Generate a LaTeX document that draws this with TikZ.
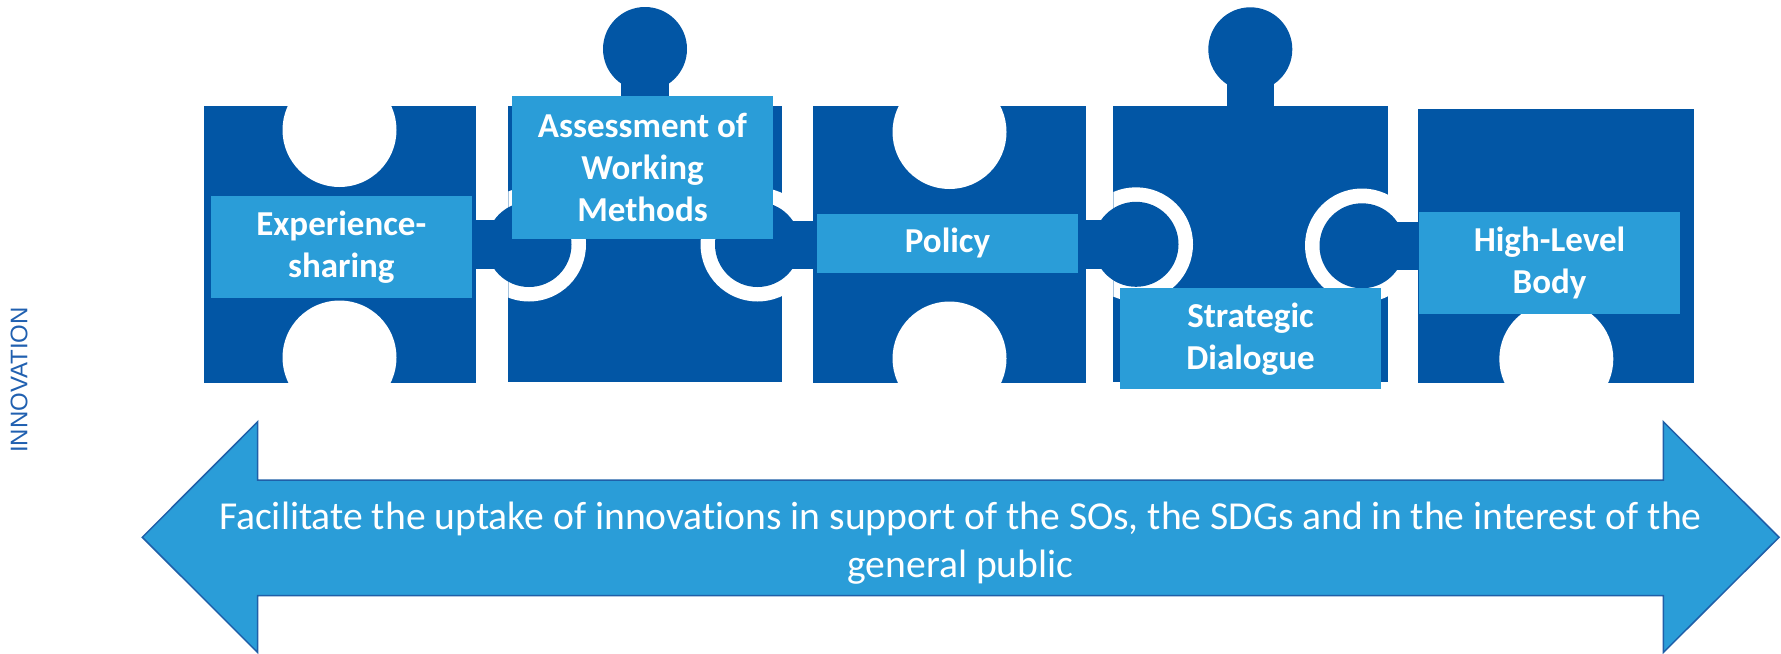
\documentclass[tikz,border=0pt]{standalone}
\usepackage{fontspec}
\setmainfont{Carlito}[Ligatures=NoCommon]
\newfontfamily\arialf{Liberation Sans}
\definecolor{pz}{HTML}{0256A5}
\definecolor{lb}{HTML}{2A9DD8}
\definecolor{al}{HTML}{1F5FA8}
\definecolor{inn}{HTML}{2060B0}
\begin{document}
\begin{tikzpicture}[x=0.5pt,y=-0.5pt,
 piece/.style={fill=pz},
 hole/.style={fill=white},
 lbl/.style={fill=lb,text=white,font=\bfseries\fontsize{17.5}{21}\selectfont,align=center,inner sep=0pt,minimum width=130.5pt},
]
\useasboundingbox (0,0) rectangle (1781,653);
% pieces
\fill[piece] (204,105.7) rectangle (476,383);
\fill[piece] (508.3,106) rectangle (782,381.7);
\fill[piece] (812.7,105.7) rectangle (1086,383.3);
\fill[piece] (1113.3,106) rectangle (1388,381.7);
\fill[piece] (1417.5,109.3) rectangle (1694.3,383.3);
% holes
\begin{scope}
\clip (204,105.7) rectangle (476,383);
\fill[hole] (339.5,130) circle[radius=57];
\fill[hole] (339.5,357.5) circle[radius=57];
\end{scope}
\begin{scope}
\clip (508.3,106) rectangle (782,381.7);
\fill[hole] (529,244.5) circle[radius=57];
\fill[hole] (757.5,244.5) circle[radius=57];
\end{scope}
\begin{scope}
\clip (812.7,105.7) rectangle (1086,383.3);
\fill[hole] (949.5,132) circle[radius=57];
\fill[hole] (949.5,358.5) circle[radius=57];
\end{scope}
\begin{scope}
\clip (1113.3,106) rectangle (1388,381.7);
\fill[hole] (1136,244.3) circle[radius=57];
\fill[hole] (1362,245.5) circle[radius=57];
\end{scope}
\begin{scope}
\clip (1417.5,109.3) rectangle (1694.3,383.3);
\fill[hole] (1556.3,359) circle[radius=57];
\end{scope}
% tabs
\fill[piece] (476,220) rectangle (529,269);
\fill[piece] (529,244.5) circle[radius=42.5];
\fill[piece] (757.5,220.5) rectangle (812.7,268.5);
\fill[piece] (757.5,244.5) circle[radius=42.5];
\fill[piece] (1086,220) rectangle (1136,269.3);
\fill[piece] (1136,244.3) circle[radius=42.5];
\fill[piece] (1362,222) rectangle (1417.5,270);
\fill[piece] (1362,245.8) circle[radius=42.5];
\fill[piece] (621,49) rectangle (669,106.5);
\fill[piece] (645,49) circle[radius=42];
\fill[piece] (1226.7,49.3) rectangle (1274.3,106.5);
\fill[piece] (1250.3,49.3) circle[radius=42];
% labels
\node[lbl,minimum height=50.85pt] (exp) at (341.3,246.9) {Experience-\\sharing};
\node[lbl,minimum height=71.65pt] (assess) at (642.5,167.7) {Assessment of\\Working\\Methods};
\node[lbl,minimum height=29.35pt] (policy) at (947.5,243.3) {Policy};
\node[lbl,minimum height=50.5pt] (strat) at (1250.5,338.8) {Strategic\\Dialogue};
\node[lbl,minimum height=50.85pt] (high) at (1549.5,262.8) {High-Level\\Body};
% arrow
\filldraw[fill=lb,draw=al,line width=0.75pt] (142.3,537.3) -- (257.7,421.7) -- (257.7,480) -- (1663.3,480) -- (1663.3,421.7) -- (1779,537.3) -- (1663.3,652.5) -- (1663.3,595.7) -- (257.7,595.7) -- (257.7,652.5) -- cycle;
\node[text=white,font=\fontsize{19.8}{24}\selectfont,align=center,inner sep=0pt] (goal) at (960.5,543) {Facilitate the uptake of innovations in support of the SOs, the SDGs and in the interest of the\\general public};
% side label
\node[rotate=90,text=inn,font=\arialf\fontsize{12}{14}\selectfont,inner sep=0pt] (innov) at (19,380) {INNOVATION};
\end{tikzpicture}
\end{document}
